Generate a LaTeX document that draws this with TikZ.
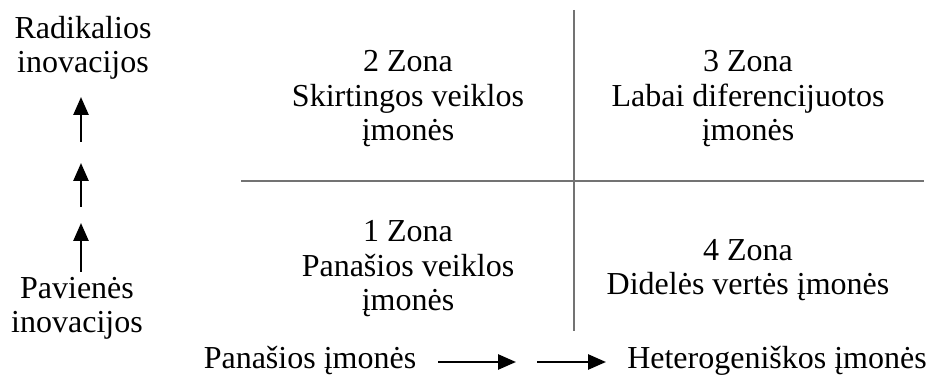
\documentclass[tikz,border=0pt]{standalone}
\usepackage{fontspec}
\setmainfont{Liberation Serif}
\usetikzlibrary{arrows.meta}
\tikzset{
  lbl/.style={font=\fontsize{16}{17.25}\selectfont, inner sep=0pt, align=center, anchor=base},
  divider/.style={draw=black!55, line width=1pt},
  upar/.style={-{Triangle[length=9pt,width=7.5pt]}, line width=1.3pt},
}
\begin{document}
\begin{tikzpicture}[x=0.5pt, y=-0.5pt]
            \useasboundingbox (0, 0) rectangle (930, 378);
            % quadrant lines
            \draw[divider] (574, 10) -- (574, 331);
            \draw[divider] (241, 181) -- (924, 181);

            % zones (base = last line)
            \node[lbl] (zone2) at (408, 141) {2 Zona\\Skirtingos veiklos\\įmonės};
            \node[lbl] (zone3) at (748, 141) {3 Zona\\Labai diferencijuotos\\įmonės};
            \node[lbl] (zone1) at (408, 311) {1 Zona\\Panašios veiklos\\įmonės};
            \node[lbl] (zone4) at (748, 295) {4 Zona\\Didelės vertės įmonės};

            % left axis
            \node[lbl] (radikal) at (83, 73) {Radikalios\\inovacijos};
            \node[lbl] (pavien) at (77, 333) {Pavienės\\inovacijos};
            \coordinate (u1s) at (81, 142);
            \coordinate (u1e) at (81, 97);
            \coordinate (u2s) at (81, 207);
            \coordinate (u2e) at (81, 163);
            \coordinate (u3s) at (81, 272);
            \coordinate (u3e) at (81, 223);
            \draw[upar] (u1s) -- (u1e);
            \draw[upar] (u2s) -- (u2e);
            \draw[upar] (u3s) -- (u3e);

            % bottom axis
            \node[lbl] (panas) at (310, 369) {Panašios įmonės};
            \node[lbl] (hetero) at (777, 369) {Heterogeniškos įmonės};
            \coordinate (r1s) at (438, 362);
            \coordinate (r1e) at (516, 362);
            \coordinate (r2s) at (537, 362);
            \coordinate (r2e) at (606, 362);
            \draw[upar] (r1s) -- (r1e);
            \draw[upar] (r2s) -- (r2e);
        \end{tikzpicture}
\end{document}
